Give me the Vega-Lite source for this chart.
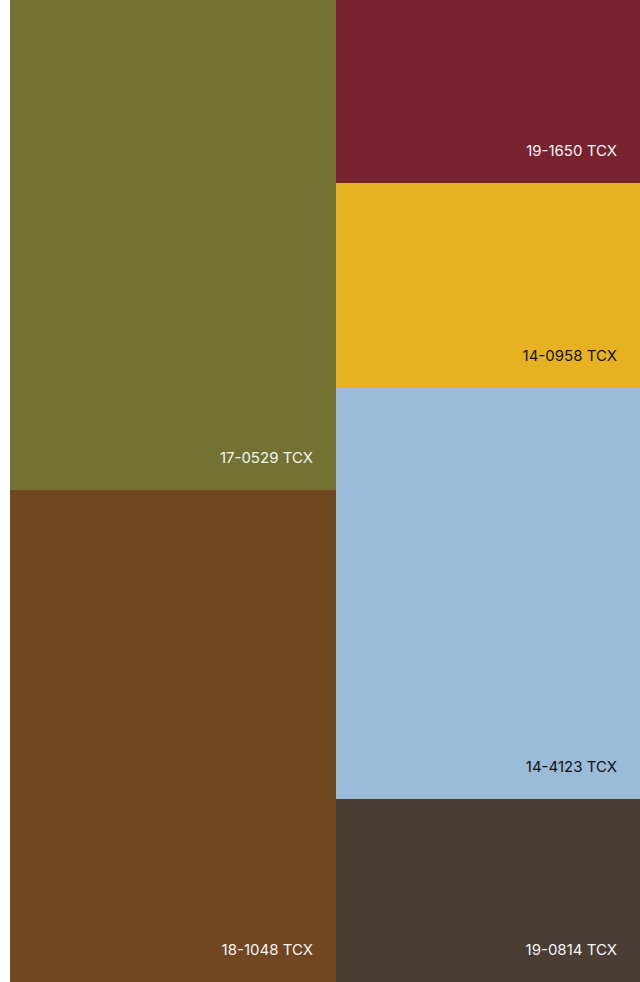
{
  "$schema": "https://vega.github.io/schema/vega-lite/v6.json",
  "width": 640,
  "height": 982,
  "autosize": {"type": "fit", "contains": "padding"},
  "padding": 0,
  "background": "white",
  "config": {"view": {"stroke": null}},
  "data": {
    "values": [
      {"code": "17-0529 TCX", "x0": 10, "x1": 336, "y0": 0, "y1": 490, "color": "#737232", "ink": "#f4f4f4"},
      {"code": "18-1048 TCX", "x0": 10, "x1": 336, "y0": 490, "y1": 982, "color": "#704721", "ink": "#f4f4f4"},
      {"code": "19-1650 TCX", "x0": 336, "x1": 640, "y0": 0, "y1": 183, "color": "#782230", "ink": "#f4f4f4"},
      {"code": "14-0958 TCX", "x0": 336, "x1": 640, "y0": 183, "y1": 388, "color": "#e6b222", "ink": "#111111"},
      {"code": "14-4123 TCX", "x0": 336, "x1": 640, "y0": 388, "y1": 799, "color": "#9bbcd8", "ink": "#111111"},
      {"code": "19-0814 TCX", "x0": 336, "x1": 640, "y0": 799, "y1": 982, "color": "#4a3d34", "ink": "#f4f4f4"}
    ]
  },
  "encoding": {},
  "layer": [
    {
      "mark": {"type": "rect", "stroke": null},
      "encoding": {
        "x": {"field": "x0", "type": "quantitative", "scale": {"domain": [0, 640], "nice": false, "zero": false}, "axis": null},
        "x2": {"field": "x1"},
        "y": {"field": "y0", "type": "quantitative", "scale": {"domain": [0, 982], "nice": false, "reverse": true}, "axis": null},
        "y2": {"field": "y1"},
        "fill": {"field": "color", "type": "nominal", "scale": null, "legend": null}
      }
    },
    {
      "mark": {"type": "text", "align": "right", "baseline": "alphabetic", "dx": -23, "dy": -27, "font": "Inter", "fontSize": 15, "fontWeight": 400},
      "encoding": {
        "x": {"field": "x1", "type": "quantitative"},
        "y": {"field": "y1", "type": "quantitative"},
        "text": {"field": "code"},
        "fill": {"field": "ink", "type": "nominal", "scale": null, "legend": null}
      }
    }
  ]
}
